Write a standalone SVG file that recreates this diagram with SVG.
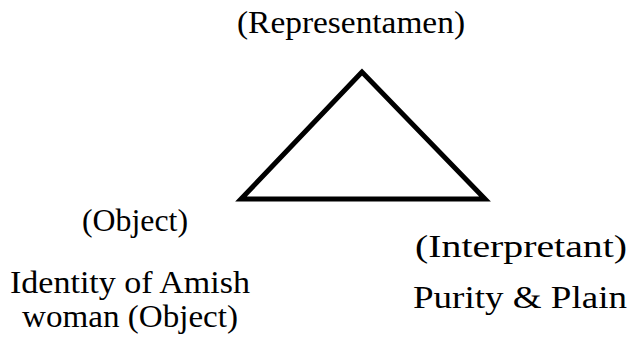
<svg xmlns="http://www.w3.org/2000/svg" width="635" height="338" viewBox="0 0 635 338">
  <style>
    text { fill: #000; text-anchor: middle; }
    .tri { fill: none; stroke: #000; stroke-width: 5; stroke-linejoin: miter; }
  </style>
  <rect width="635" height="338" fill="#fff"/>
  <g id="connectors">
    <polygon class="tri" points="362,72 241,199 485,199"/>
  </g>
  <g font-family="Liberation Serif, Times New Roman, Times, serif" font-size="31">
    <g id="representamen">
      <text x="351" y="33" textLength="228" lengthAdjust="spacingAndGlyphs">(Representamen)</text>
    </g>
    <g id="object">
      <text x="135" y="231" textLength="106" lengthAdjust="spacingAndGlyphs">(Object)</text>
      <text x="130" y="293" textLength="240" lengthAdjust="spacingAndGlyphs">Identity of Amish</text>
      <text x="130" y="327" textLength="216" lengthAdjust="spacingAndGlyphs">woman (Object)</text>
    </g>
    <g id="interpretant">
      <text x="521" y="257" textLength="212" lengthAdjust="spacingAndGlyphs">(Interpretant)</text>
      <text x="520" y="308" textLength="214" lengthAdjust="spacingAndGlyphs">Purity &amp; Plain</text>
    </g>
  </g>
</svg>
